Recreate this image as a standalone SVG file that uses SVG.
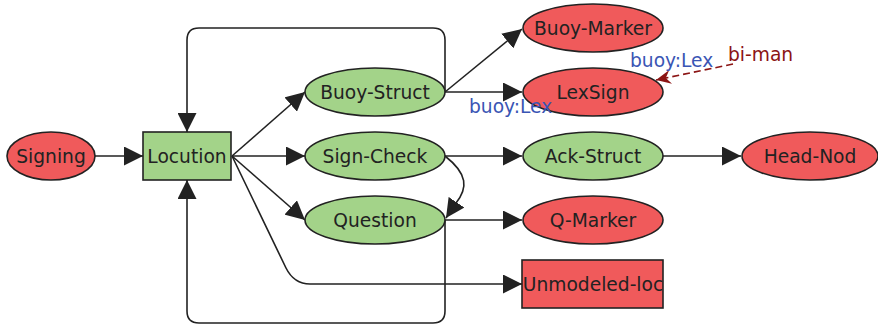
<svg xmlns="http://www.w3.org/2000/svg" width="878" height="329" viewBox="0 0 878 329">
<style>
.red{fill:#f05a5b;stroke:#222;stroke-width:1.6}
.green{fill:#a3d389;stroke:#222;stroke-width:1.6}
.lbl{font-family:"DejaVu Sans",sans-serif;font-size:18.67px;fill:#222;text-anchor:middle}
.elbl{font-family:"DejaVu Sans",sans-serif;font-size:18.67px;fill:#3a55b4}
.edge{fill:none;stroke:#222;stroke-width:1.6}
</style>
<defs>
<marker id="ah" markerUnits="userSpaceOnUse" markerWidth="19" markerHeight="19" refX="19" refY="9.5" orient="auto" viewBox="0 0 19 19">
<path d="M0,0 L19,9.5 L0,19 z" fill="#222"/>
</marker>
<marker id="ahr" markerUnits="userSpaceOnUse" markerWidth="16" markerHeight="14" refX="15" refY="7" orient="auto" viewBox="0 0 16 14">
<path d="M0,0 L15,7 L0,14 L5,7 z" fill="#8b1414"/>
</marker>
</defs>
<g id="connectors">
<path class="edge" d="M95,156 L143,156" marker-end="url(#ah)"/>
<path class="edge" d="M232,156 L305,92" marker-end="url(#ah)"/>
<path class="edge" d="M232,156 L305,156" marker-end="url(#ah)"/>
<path class="edge" d="M232,156 L305,220" marker-end="url(#ah)"/>
<path class="edge" d="M232,156 L286,268 Q294,284 310,284 L522,284" marker-end="url(#ah)"/>
<path class="edge" d="M445,92 L445,40 Q445,28 433,28 L199,28 Q187,28 187,40 L187,132" marker-end="url(#ah)"/>
<path class="edge" d="M445,220 L445,311 Q445,323 433,323 L199,323 Q187,323 187,311 L187,180" marker-end="url(#ah)"/>
<path class="edge" d="M445,92 L522,29" marker-end="url(#ah)"/>
<path class="edge" d="M445,92 L522,92" marker-end="url(#ah)"/>
<path class="edge" d="M445,156 L522,156" marker-end="url(#ah)"/>
<path class="edge" d="M663,156 L741,156" marker-end="url(#ah)"/>
<path class="edge" d="M445,156 C468,174 468,188 456,203 L446,218" marker-end="url(#ah)"/>
<path class="edge" d="M445,220 L522,220" marker-end="url(#ah)"/>
<path d="M733,64 L656,80" fill="none" stroke="#8b1414" stroke-width="1.6" stroke-dasharray="7,4" marker-end="url(#ahr)"/>
</g>
<g id="Signing"><ellipse class="red" cx="51" cy="156" rx="44" ry="24"/><text class="lbl" x="51" y="163">Signing</text></g>
<g id="Locution"><rect class="green" x="143" y="132" width="88" height="48"/><text class="lbl" x="187" y="163">Locution</text></g>
<g id="Buoy-Struct"><ellipse class="green" cx="375" cy="92" rx="70" ry="24"/><text class="lbl" x="375" y="99">Buoy-Struct</text></g>
<g id="Sign-Check"><ellipse class="green" cx="375" cy="156" rx="70" ry="24"/><text class="lbl" x="375" y="163">Sign-Check</text></g>
<g id="Question"><ellipse class="green" cx="375" cy="220" rx="70" ry="24"/><text class="lbl" x="375" y="227">Question</text></g>
<g id="Buoy-Marker"><ellipse class="red" cx="593" cy="28" rx="70" ry="24"/><text class="lbl" x="593" y="35">Buoy-Marker</text></g>
<g id="LexSign"><ellipse class="red" cx="593" cy="92" rx="70" ry="24"/><text class="lbl" x="593" y="99">LexSign</text></g>
<g id="Ack-Struct"><ellipse class="green" cx="593" cy="156" rx="70" ry="24"/><text class="lbl" x="593" y="163">Ack-Struct</text></g>
<g id="Q-Marker"><ellipse class="red" cx="593" cy="220" rx="70" ry="24"/><text class="lbl" x="593" y="227">Q-Marker</text></g>
<g id="Unmodeled-loc"><rect x="522" y="260" width="141" height="48" fill="#f05a5b"/><text class="lbl" x="593" y="291">Unmodeled-loc</text><rect x="522" y="260" width="141" height="48" fill="none" stroke="#222" stroke-width="1.6"/></g>
<g id="Head-Nod"><ellipse class="red" cx="810" cy="156" rx="68" ry="24"/><text class="lbl" x="810" y="163">Head-Nod</text></g>
<g id="edge-labels">
<text class="elbl" x="469" y="113">buoy:Lex</text>
<text class="elbl" x="630" y="67">buoy:Lex</text>
<text x="728" y="61" style="font-family:'DejaVu Sans',sans-serif;font-size:18.67px;fill:#8b1414">bi-man</text>
</g>
</svg>
